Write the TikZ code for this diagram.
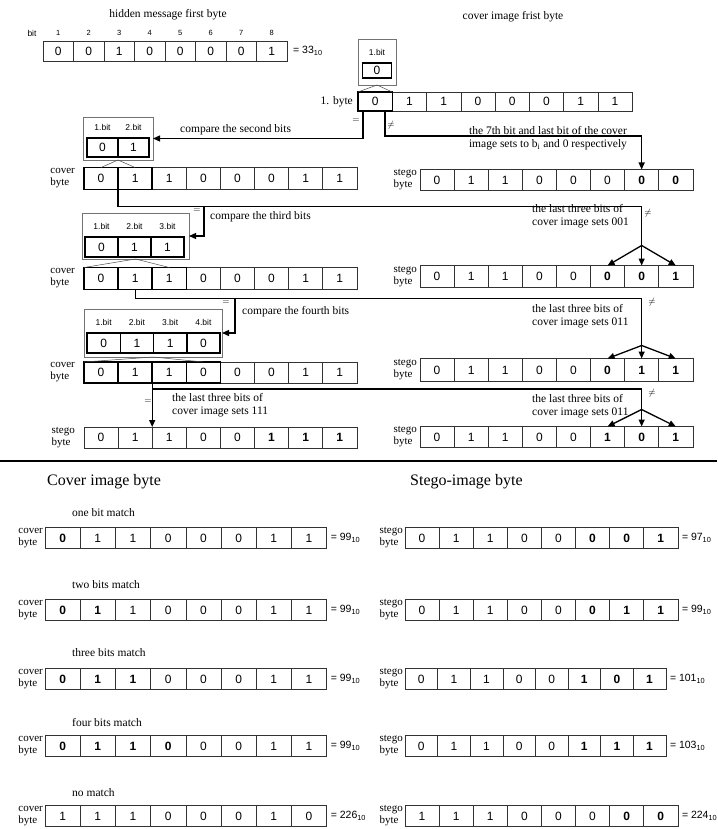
\documentclass[tikz,border=0pt]{standalone}
\usepackage{fontspec}
\setmainfont{Liberation Serif}
\setsansfont{Liberation Sans}
\usepackage{tikz}
\usetikzlibrary{positioning, arrows.meta}

% one byte as a row of named cells: name, left x, centre y, cell width, cell height, bits
\newcommand{\byterow}[6]{%
  \foreach \v [count=\i] in {#6}
    \node[cell, minimum width=#4pt, minimum height=#5pt] (#1-\i) at ({#2+(\i-0.5)*#4},#3) {\v};
}
% thick frame round the first cells of a row
\newcommand{\hotcells}[2]{%
  \foreach \i in {1,...,#2}
    \draw[hot] (#1-\i.north west) rectangle (#1-\i.south east);
}

\begin{document}
\begin{tikzpicture}[x=1pt,y=-1pt,
  cell/.style={draw=black!80, line width=0.5pt, inner sep=0pt, outer sep=0pt, font=\sffamily\fontsize{12}{12}\selectfont},
  hot/.style={draw=black, line width=1.5pt},
  frame/.style={draw=black!55, line width=0.6pt, inner sep=0pt, outer sep=0pt},
  note/.style={font=\fontsize{11.5}{13}\selectfont, align=left, inner sep=0pt},
  head/.style={font=\fontsize{16}{18}\selectfont, inner sep=0pt, anchor=west},
  lbl/.style={font=\fontsize{11}{12}\selectfont, align=left, inner sep=0pt, anchor=east},
  tiny/.style={font=\sffamily\fontsize{8.5}{9}\selectfont, inner sep=0pt},
  sym/.style={font=\fontsize{9}{9}\selectfont, inner sep=0pt},
  val/.style={font=\sffamily\fontsize{10.5}{11}\selectfont, inner sep=0pt, anchor=west},
  wire/.style={line width=1.3pt},
  arr/.style={wire, -{Triangle[length=7pt, width=6pt]}},
  callout/.style={line width=0.5pt, draw=black!70}]
  \useasboundingbox (0,0) rectangle (717,829);

  % hidden message
  \node[note] (hidt) at (168,15) {hidden message first byte};
  \node[tiny] (bitl) at (32,33) {bit};
  \byterow{hid}{43}{51}{30.5}{20}{0,0,1,0,0,0,0,1}
  \foreach \i in {1,...,8}
    \node[tiny, font=\sffamily\fontsize{7.5}{8}\selectfont] (hn-\i) at ([yshift=8pt]hid-\i.north) {\i};
  \node[val] (hidv) at ([xshift=6pt]hid-8.east) {= 33\textsubscript{10}};

  % cover image first byte
  \node[note] (covt) at (513,17) {cover image frist byte};
  \node[frame, minimum width=38pt, minimum height=46pt] (box1) at (377,62) {};
  \node[tiny] (b1t-1) at (377,52) {1.bit};
  \byterow{b1}{362.5}{70.5}{29}{15}{0}
  \hotcells{b1}{1}
  \byterow{cov0}{358}{101.5}{34.25}{19}{0,1,1,0,0,0,1,1}
  \hotcells{cov0}{1}
  \node[note, anchor=east] (l0) at ([xshift=-5pt]cov0-1.west) {1. byte};
  \draw[callout] (cov0-1.north west) -- (box1.south) -- (cov0-1.north east);

  % second bits
  \node[frame, minimum width=70pt, minimum height=43pt] (box2) at (118,138.5) {};
  \byterow{b2}{87}{147.5}{31}{19}{0,1}
  \hotcells{b2}{2}
  \foreach \i in {1,2}
    \node[tiny] (b2t-\i) at ([yshift=11pt]b2-\i.north) {\i.bit};
  \byterow{cov1}{84}{178.5}{34.1}{22}{0,1,1,0,0,0,1,1}
  \hotcells{cov1}{2}
  \node[lbl] (l1) at ([xshift=-9pt]cov1-1.west) {cover\\byte};
  \draw[callout] (cov1-1.north) -- (box2.south) -- (cov1-2.north);
  \draw[arr] ([xshift=-12pt]cov0-1.south) |- (box2.east);
  \node[sym] (eq0) at (356,121) {$=$};
  \node[note, anchor=west] (cmp2) at (180,130) {compare the second bits};

  \byterow{st1}{420}{180}{34.1}{21}{0,1,1,0,0,0,\textbf{0},\textbf{0}}
  \node[lbl] (ls1) at ([xshift=-3pt]st1-1.west) {stego\\byte};
  \draw[arr] ([xshift=10pt]cov0-1.south) -- ++(0,25) -| (st1-7.north);
  \node[sym] (ne0) at (391,125) {$\neq$};
  \node[note, align=center] (set1) at (548,138) {the 7th bit and last bit of the cover\\image sets to b\textsubscript{i} and 0 respectively};

  % third bits
  \node[frame, minimum width=107pt, minimum height=46pt] (box3) at (135.5,236) {};
  \byterow{b3}{85}{247}{33}{20}{0,1,1}
  \hotcells{b3}{3}
  \foreach \i in {1,2,3}
    \node[tiny] (b3t-\i) at ([yshift=11pt]b3-\i.north) {\i.bit};
  \byterow{cov2}{84}{278.5}{34.1}{22}{0,1,1,0,0,0,1,1}
  \hotcells{cov2}{3}
  \node[lbl] (l2) at ([xshift=-9pt]cov2-1.west) {cover\\byte};
  \draw[callout] (cov2-1.north west) -- (box3.south) -- (cov2-3.north);

  \byterow{st2}{420}{276.5}{34.1}{22}{0,1,1,0,0,\textbf{0},\textbf{0},\textbf{1}}
  \node[lbl] (ls2) at ([xshift=-3pt]st2-1.west) {stego\\byte};
  \coordinate (hub2) at ([yshift=20pt]st2-7.north);
  \draw[wire] (cov1-1.south east) -- ++(0,17) coordinate (j1) -| (hub2);
  \foreach \i in {6,7,8}
    \draw[arr] (hub2) -- (st2-\i.north);
  \coordinate (t1) at ([xshift=15pt]box3.east);
  \draw[arr] (t1 |- j1) |- (box3.east);
  \node[sym] (eq1) at (197,211) {$=$};
  \node[sym] (ne1) at (648,213) {$\neq$};
  \node[note, anchor=west] (cmp3) at (210,217) {compare the third bits};
  \node[note, anchor=west] (set2) at (532,216) {the last three bits of\\cover image sets 001};

  % fourth bits
  \node[frame, minimum width=138pt, minimum height=48pt] (box4) at (153,333) {};
  \byterow{b4}{87}{343}{33.25}{20}{0,1,1,0}
  \hotcells{b4}{4}
  \foreach \i in {1,...,4}
    \node[tiny] (b4t-\i) at ([yshift=11pt]b4-\i.north) {\i.bit};
  \byterow{cov3}{84}{372.5}{34.1}{21}{0,1,1,0,0,0,1,1}
  \hotcells{cov3}{4}
  \node[lbl] (l3) at ([xshift=-9pt]cov3-1.west) {cover\\byte};
  \draw[callout] (cov3-1.north west) -- (box4.south) -- (cov3-4.north);

  \byterow{st3}{420}{370}{34.1}{23}{0,1,1,0,0,\textbf{0},\textbf{1},\textbf{1}}
  \node[lbl] (ls3) at ([xshift=-3pt]st3-1.west) {stego\\byte};
  \coordinate (hub3) at ([yshift=13pt]st3-7.north);
  \draw[wire] (cov2-2.south) -- ++(0,9) coordinate (j2) -| (hub3);
  \foreach \i in {6,7,8}
    \draw[arr] (hub3) -- (st3-\i.north);
  \coordinate (t2) at ([xshift=13pt]box4.east);
  \draw[arr] (t2 |- j2) |- (box4.east);
  \node[sym] (eq2) at (226,303) {$=$};
  \node[sym] (ne2) at (652,302) {$\neq$};
  \node[note, anchor=west] (cmp4) at (242,312) {compare the fourth bits};
  \node[note, anchor=west] (set3) at (532,316) {the last three bits of\\cover image sets 011};

  % last step
  \byterow{st4}{84}{437.5}{34.1}{21}{0,1,1,0,0,\textbf{1},\textbf{1},\textbf{1}}
  \node[lbl] (ls4) at ([xshift=-9pt]st4-1.west) {stego\\byte};
  \byterow{st5}{420}{437}{34.1}{21}{0,1,1,0,0,\textbf{1},\textbf{0},\textbf{1}}
  \node[lbl] (ls5) at ([xshift=-3pt]st5-1.west) {stego\\byte};
  \draw[arr] (cov3-2.south east) -- (st4-2.north east);
  \coordinate (hub4) at ([yshift=17pt]st5-7.north);
  \draw[wire] (cov3-2.south east) -- ++(0,6) coordinate (j3) -| (hub4);
  \foreach \i in {6,7,8}
    \draw[arr] (hub4) -- (st5-\i.north);
  \node[sym] (eq3) at (148,402) {$=$};
  \node[sym] (ne3) at (652,393) {$\neq$};
  \node[note, anchor=west] (set4) at (172,405) {the last three bits of\\cover image sets 111};
  \node[note, anchor=west] (set5) at (532,406) {the last three bits of\\cover image sets 011};

  \draw[line width=1.2pt] (0,461) -- (717,461);

  % summary
  \node[head] (hc) at (47,482) {Cover image byte};
  \node[head] (hs) at (410,482) {Stego-image byte};

  \node[note, anchor=west] (m1) at (72,513) {one bit match};
  \byterow{ca}{45}{538}{35.2}{21}{\textbf{0},1,1,0,0,0,1,1}
  \byterow{sa}{405}{538}{34.1}{21}{0,1,1,0,0,\textbf{0},\textbf{0},\textbf{1}}
  \node[note, anchor=west] (m2) at (72,585) {two bits match};
  \byterow{cb}{45}{610}{35.2}{21}{\textbf{0},\textbf{1},1,0,0,0,1,1}
  \byterow{sb}{405}{610}{34.1}{21}{0,1,1,0,0,\textbf{0},\textbf{1},\textbf{1}}
  \node[note, anchor=west] (m3) at (72,653) {three bits match};
  \byterow{cc}{45}{679}{35.2}{21}{\textbf{0},\textbf{1},\textbf{1},0,0,0,1,1}
  \byterow{sc}{405}{679}{32.6}{21}{0,1,1,0,0,\textbf{1},\textbf{0},\textbf{1}}
  \node[note, anchor=west] (m4) at (72,722) {four bits match};
  \byterow{cd}{45}{746}{35.2}{21}{\textbf{0},\textbf{1},\textbf{1},\textbf{0},0,0,1,1}
  \byterow{sd}{405}{746}{32.6}{21}{0,1,1,0,0,\textbf{1},\textbf{1},\textbf{1}}
  \node[note, anchor=west] (m5) at (72,793) {no match};
  \byterow{ce}{45}{816}{35.2}{21}{1,1,1,0,0,0,1,0}
  \byterow{se}{405}{816}{34.1}{21}{1,1,1,0,0,0,\textbf{0},\textbf{0}}

  \foreach \r in {ca,cb,cc,cd,ce}
    \node[lbl] (\r-l) at ([xshift=-2pt]\r-1.west) {cover\\byte};
  \foreach \r in {sa,sb,sc,sd,se}
    \node[lbl] (\r-l) at ([xshift=-2pt]\r-1.west) {stego\\byte};
  \foreach \r/\n in {ca/99,cb/99,cc/99,cd/99,ce/226,sa/97,sb/99,sc/101,sd/103,se/224}
    \node[val] (\r-v) at ([xshift=4pt]\r-8.east) {= \n\textsubscript{10}};
\end{tikzpicture}
\end{document}
